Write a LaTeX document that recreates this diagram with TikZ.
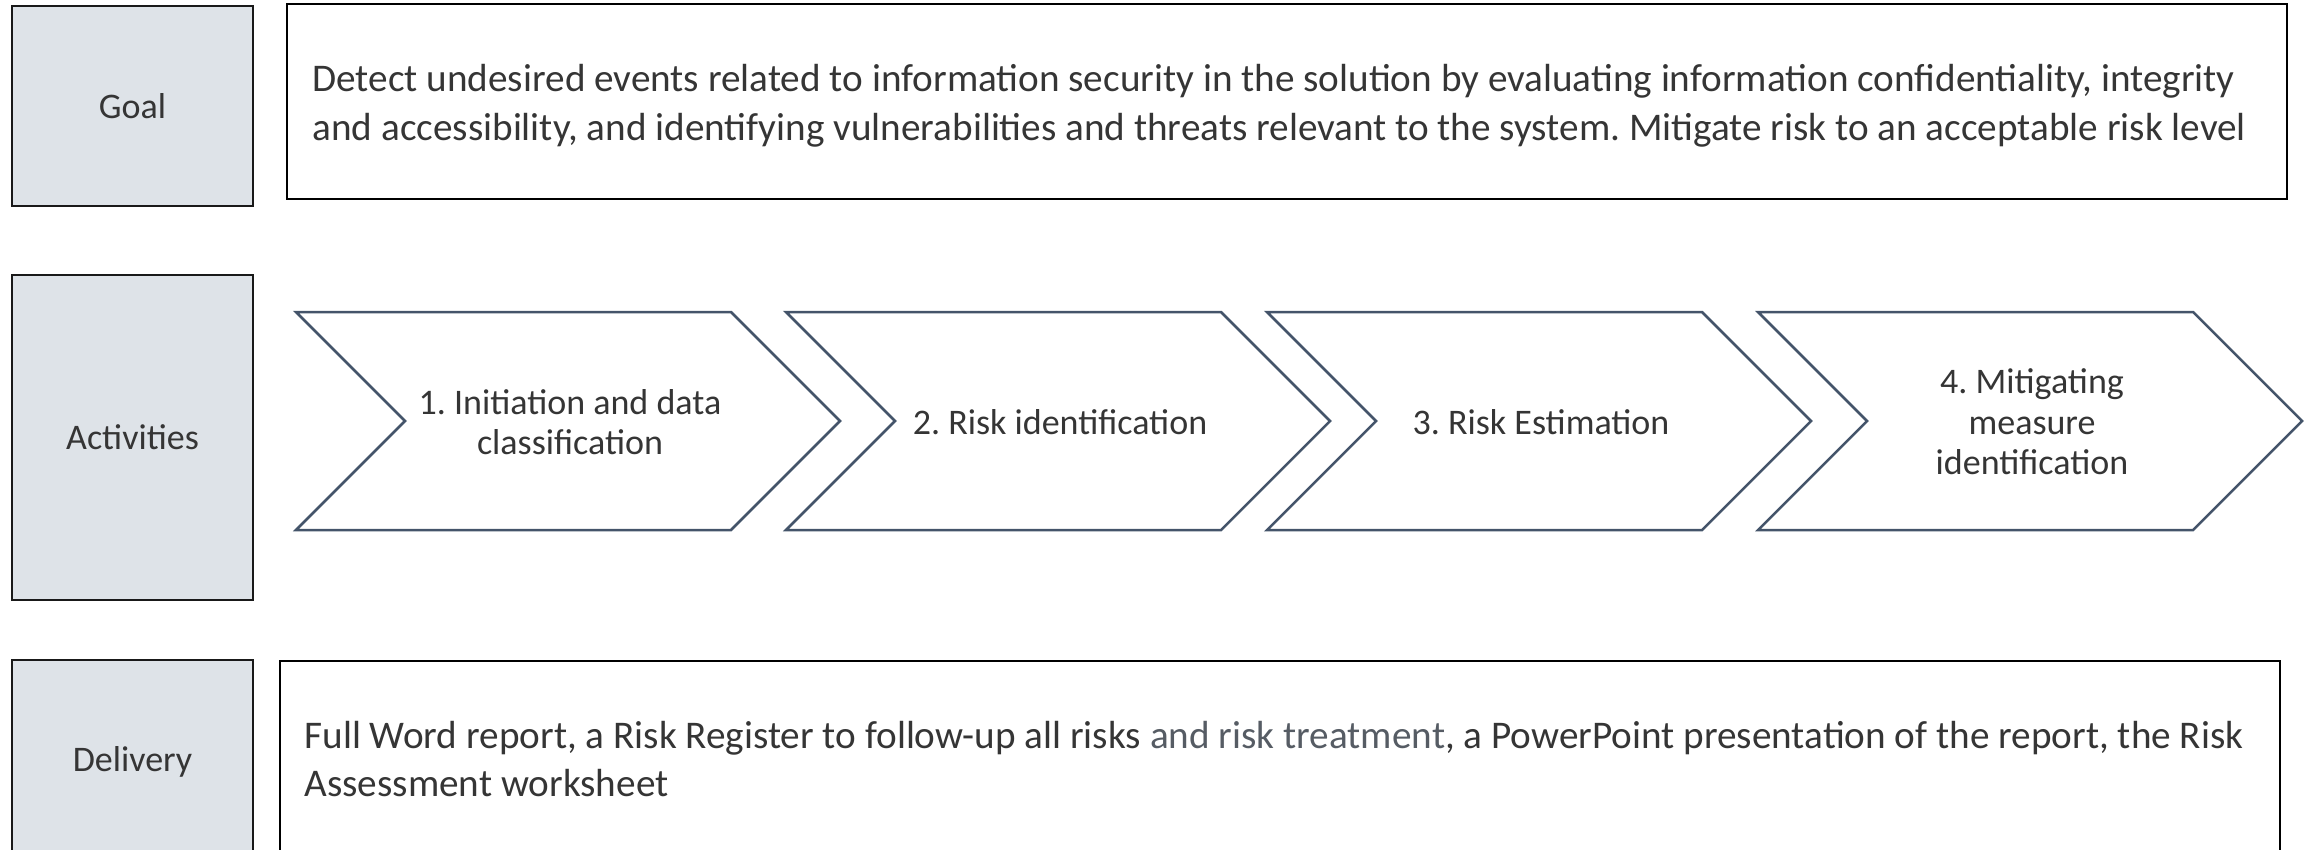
\documentclass[tikz,border=0pt]{standalone}
\usepackage{fontspec}
\setmainfont{Carlito}
\usetikzlibrary{positioning}
\definecolor{slate}{HTML}{44546A}
\definecolor{mist}{HTML}{DEE3E8}
\definecolor{ink}{HTML}{353535}
\definecolor{ash}{HTML}{565C64}
\frenchspacing

\begin{document}
\begin{tikzpicture}[x=1pt,y=-1pt,
  rowbox/.style={draw=black!90,line width=2.5pt,fill=mist,text=ink,minimum width=241pt,
    font=\fontsize{36}{44}\selectfont},
  descbox/.style={draw=black,line width=2pt,minimum width=2000pt},
  desctext/.style={anchor=west,align=left,text=ink,font=\fontsize{39.2}{48.6}\selectfont},
  chev/.style={draw=slate,line width=2.5pt,line join=miter},
  chevtext/.style={align=center,text=ink,font=\fontsize{36}{40.5}\selectfont}]
  \useasboundingbox (0,0) rectangle (2308,849);
  \clip (0,0) rectangle (2308,849);
  % row headers
  \node[rowbox,minimum height=200pt] (goal) at (132.5,106) {Goal};
  \node[rowbox,minimum height=325pt] (activities) at (132.5,437.5) {Activities};
  \node[rowbox,minimum height=204pt] (delivery) at (132.5,762) {Delivery};
  % goal
  \node[descbox,minimum height=195pt] (goalbox) at (1287,101.5) {};
  \node[desctext] (goaltext) at (309,106) {Detect undesired events related to information security in the solution by evaluating information confidentiality, integrity\\and accessibility, and identifying vulnerabilities and threats relevant to the system. Mitigate risk to an acceptable risk level};
  % activities
  \foreach \x/\n/\txt in {296/1/{1. Initiation and data\\classification},
      786/2/{2. Risk identification},
      1267/3/{3. Risk Estimation},
      1758/4/{4. Mitigating\\measure\\identification}} {
    \draw[chev] (\x,312) -- ++(435,0) -- ++(109,109) -- ++(-109,109) -- ++(-435,0) -- ++(109,-109) -- cycle;
    \node[chevtext] (act\n) at (\x+274,422) {\txt};
  }
  % delivery
  \node[descbox,minimum height=194pt] (deliverybox) at (1280,758) {};
  \node[desctext] (deliverytext) at (301,759) {Full Word report, a Risk Register to follow-up all risks {\color{ash}and risk treatment}, a PowerPoint presentation of the report, the Risk\\Assessment worksheet};
\end{tikzpicture}
\end{document}
